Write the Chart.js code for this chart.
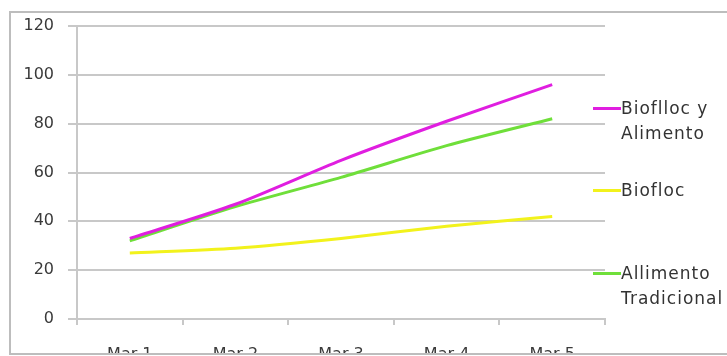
<!DOCTYPE html>
<html>
<head>
<meta charset="utf-8">
<script src="https://cdn.jsdelivr.net/npm/chart.js@4/dist/chart.umd.min.js"></script>
<style>
  html, body { margin: 0; padding: 0; background: #fff; overflow: hidden; }
  body { width: 727px; height: 356px; position: relative; }
  #frame {
    position: absolute; left: 9px; top: 11px;
    width: 730px; height: 340px;
    border: 2px solid #bdbdbd; overflow: hidden; background: #fff;
  }
  #chart { position: absolute; left: 0; top: 0; }
  #legend {
    position: absolute; left: 582px; top: 83px;
    font-family: "DejaVu Sans", sans-serif; font-size: 17px; color: #333;
    letter-spacing: 1px;
  }
  .item { display: flex; align-items: flex-start; line-height: 25px; }
  .item + .item { margin-top: 32px; }
  .item:last-child { margin-top: 58px; }
  .mark { width: 28px; height: 3px; margin-top: 11px; flex: none; }
  .txt { white-space: nowrap; }
</style>
</head>
<body>
<div id="frame">
  <canvas id="chart" width="730" height="360"></canvas>
  <div id="legend"></div>
</div>
<script>
// Datos
const meses = ['Mar 1', 'Mar 2', 'Mar 3', 'Mar 4', 'Mar 5'];
const biofllocAlimento = [33, 47, 65, 81, 96];
const biofloc = [27, 29, 33, 38, 42];
const alimentoTradicional = [32, 46, 58, 71, 82];
const yTicks = [0, 20, 40, 60, 80, 100, 120];

// nombres de la leyenda (con salto de línea)
const nombres = [['Bioflloc y', 'Alimento'], ['Biofloc'], ['Allimento', 'Tradicional']];
const colores = ['#e01ee0', '#f2f21c', '#6fdf3a'];

const gridColor = '#c8c8c8';
const textColor = '#3a3a3a';

const chart = new Chart('chart', {
    type: 'line',
    data: {
        labels: meses,
        datasets: [
            { label: nombres[0].join(' '), data: biofllocAlimento, borderColor: colores[0] },
            { label: nombres[1].join(' '), data: biofloc, borderColor: colores[1] },
            { label: nombres[2].join(' '), data: alimentoTradicional, borderColor: colores[2] }
        ].map(ds => Object.assign(ds, { borderWidth: 3, pointRadius: 0, tension: 0.25, fill: false }))
    },
    options: {
        responsive: false,
        devicePixelRatio: 1,
        animation: false,
        layout: { padding: { top: 13, right: 136, bottom: 0, left: 0 } },
        plugins: {
            legend: { display: false },
            tooltip: { enabled: false }
        },
        scales: {
            x: {
                offset: true,
                afterFit: scale => { scale.height = 54; },
                grid: { offset: true, drawOnChartArea: false, tickLength: 6, color: gridColor, lineWidth: 2 },
                border: { color: gridColor, width: 2 },
                ticks: { color: textColor, padding: 20, font: { family: 'DejaVu Sans', size: 16 } }
            },
            y: {
                min: 0,
                max: 120,
                afterFit: scale => {
                    scale.width = 66;
                    // que el padding de las etiquetas no empuje el área del gráfico
                    scale.paddingTop = 0;
                    scale.paddingBottom = 0;
                },
                afterBuildTicks: scale => { scale.ticks = yTicks.map(v => ({ value: v })); },
                grid: { color: gridColor, lineWidth: 2, tickLength: 9 },
                border: { color: gridColor, width: 2 },
                ticks: { color: textColor, padding: 14, font: { family: 'DejaVu Sans', size: 16 } }
            }
        }
    }
});

// Leyenda en HTML para poder partir el texto en dos líneas
const legend = document.getElementById('legend');
chart.data.datasets.forEach((ds, i) => {
    const item = document.createElement('div');
    item.className = 'item';
    item.innerHTML = `<span class="mark" style="background:${ds.borderColor}"></span>` +
        `<span class="txt">${nombres[i].join('<br>')}</span>`;
    legend.appendChild(item);
});
</script>
</body>
</html>
